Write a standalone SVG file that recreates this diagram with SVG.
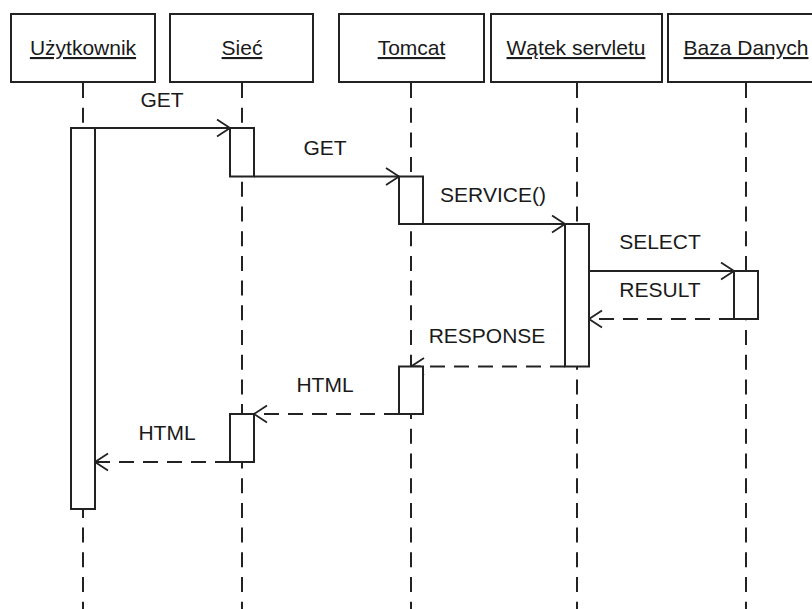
<svg xmlns="http://www.w3.org/2000/svg" width="812" height="609" viewBox="0 0 812 609">
  <style>
    .head { fill: #ffffff; stroke: #222222; stroke-width: 2; }
    .life { stroke: #222222; stroke-width: 2; stroke-dasharray: 15 9.7; fill: none; }
    .act { fill: #ffffff; stroke: #222222; stroke-width: 2; }
    .msg { stroke: #222222; stroke-width: 1.8; fill: none; marker-end: url(#open); }
    .ret { stroke-dasharray: 15 9; }
    text { font-family: "Liberation Sans", Arial, sans-serif; font-size: 21px; fill: #1a1a1a; }
    .title { text-anchor: middle; text-decoration: underline; }
    .lbl { text-anchor: middle; }
  </style>
  <defs>
    <marker id="open" markerUnits="userSpaceOnUse" markerWidth="16" markerHeight="20" viewBox="-1 -1 16 20" refX="13" refY="8.5" orient="auto">
      <path d="M0,0 L13,8.5 L0,17" fill="none" stroke="#222222" stroke-width="1.8"/>
    </marker>
  </defs>
  <rect width="812" height="609" fill="#ffffff"/>

  <!-- participants: header box + lifeline -->
  <g id="uzytkownik">
    <line class="life" x1="83" y1="83" x2="83" y2="609"/>
    <rect class="head" x="11" y="14" width="144" height="68"/>
    <text class="title" x="83" y="55">Użytkownik</text>
  </g>
  <g id="siec">
    <line class="life" x1="242" y1="83" x2="242" y2="609"/>
    <rect class="head" x="170" y="14" width="143" height="68"/>
    <text class="title" x="242" y="55">Sieć</text>
  </g>
  <g id="tomcat">
    <line class="life" x1="411" y1="83" x2="411" y2="609"/>
    <rect class="head" x="339" y="14" width="145" height="68"/>
    <text class="title" x="411.5" y="55">Tomcat</text>
  </g>
  <g id="watek-servletu">
    <line class="life" x1="577" y1="83" x2="577" y2="609"/>
    <rect class="head" x="491" y="14" width="171" height="68"/>
    <text class="title" x="576" y="55">Wątek servletu</text>
  </g>
  <g id="baza-danych">
    <line class="life" x1="746" y1="83" x2="746" y2="609"/>
    <rect class="head" x="668" y="14" width="156" height="68"/>
    <text class="title" x="746" y="55">Baza Danych</text>
  </g>

  <!-- messages -->
  <g id="connectors">
    <line class="msg" x1="95" y1="128" x2="230" y2="128"/>
    <text class="lbl" x="162" y="107">GET</text>
    <line class="msg" x1="254" y1="176.5" x2="399" y2="176.5"/>
    <text class="lbl" x="325" y="155">GET</text>
    <line class="msg" x1="423" y1="224" x2="565" y2="224"/>
    <text class="lbl" x="493" y="202">SERVICE()</text>
    <line class="msg" x1="589" y1="271" x2="734" y2="271"/>
    <text class="lbl" x="660" y="249">SELECT</text>
    <line class="msg ret" x1="734" y1="319" x2="589" y2="319"/>
    <text class="lbl" x="660" y="297">RESULT</text>
    <line class="msg ret" x1="565" y1="366.5" x2="411" y2="366.5"/>
    <text class="lbl" x="487" y="343">RESPONSE</text>
    <line class="msg ret" x1="399" y1="414" x2="254" y2="414"/>
    <text class="lbl" x="325" y="392">HTML</text>
    <line class="msg ret" x1="230" y1="462" x2="95" y2="462"/>
    <text class="lbl" x="167" y="440">HTML</text>
  </g>

  <!-- activation bars -->
  <g id="activations">
    <rect class="act" x="71" y="128" width="24" height="381"/>
    <rect class="act" x="230" y="128" width="24" height="48.5"/>
    <rect class="act" x="399" y="176.5" width="24" height="47.5"/>
    <rect class="act" x="565" y="224" width="24" height="142.5"/>
    <rect class="act" x="734" y="271" width="24" height="48"/>
    <rect class="act" x="399" y="366.5" width="24" height="47.5"/>
    <rect class="act" x="230" y="414" width="24" height="48"/>
  </g>
</svg>
